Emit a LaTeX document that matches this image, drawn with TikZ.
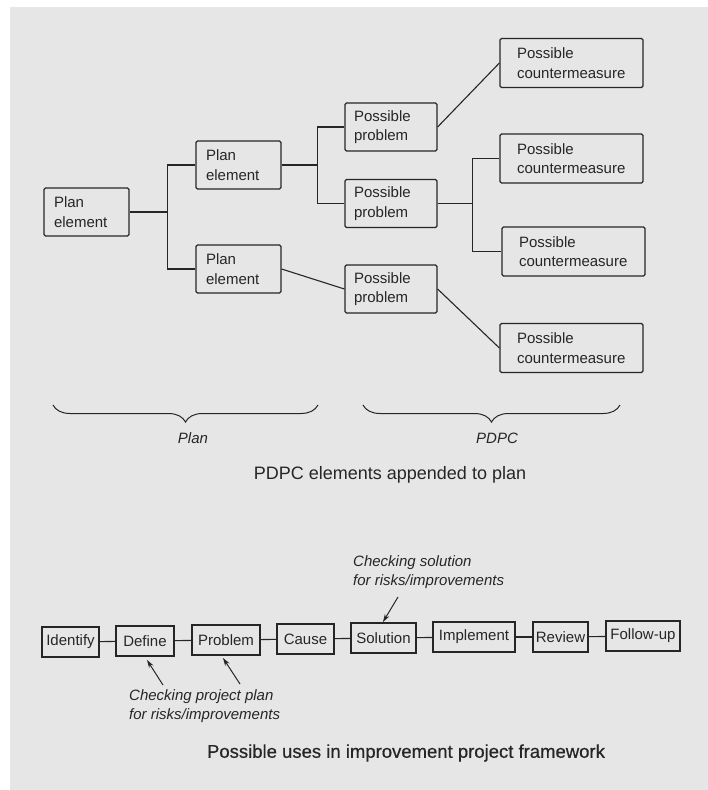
\documentclass[tikz,border=0pt]{standalone}
\usepackage{fontspec}
\setmainfont{Liberation Sans}
\usetikzlibrary{arrows.meta,decorations.pathreplacing,calc}
\definecolor{paper}{RGB}{230,230,230}
\definecolor{ink}{RGB}{38,38,38}

\begin{document}
\begin{tikzpicture}[x=1pt,y=-1pt,
  every node/.style={text=ink},
  treebox/.style={draw=ink, line width=1.2pt, rounded corners=1.5pt, inner ysep=0pt,
    minimum height=48pt, align=left, font=\fontsize{15}{19.5}\selectfont},
  planbox/.style={treebox, text width=65pt, inner xsep=10pt},
  probbox/.style={treebox, text width=74pt, inner xsep=9pt},
  cmbox/.style={treebox, text width=109pt, inner xsep=17pt, minimum height=49pt},
  stepbox/.style={draw=ink, line width=1.2pt, inner sep=0pt, minimum height=30pt,
    font=\fontsize{15}{18}\selectfont},
  link/.style={draw=ink, line width=1.1pt},
  pointer/.style={draw=ink, line width=1pt, -{Stealth[length=8pt,width=5pt]}},
  note/.style={font=\fontsize{15}{19}\selectfont\itshape, align=left, inner sep=0pt},
  caption/.style={font=\fontsize{18}{20}\selectfont, inner sep=0pt},
  bracket/.style={draw=ink, line width=1pt, decorate,
    decoration={brace, mirror, amplitude=17pt}},
]
% page and paper
\useasboundingbox (0,0) rectangle (708,790);
\fill[white] (0,0) rectangle (708,790);
\fill[paper] (10,7) rectangle (708,790);

% ---- plan tree with PDPC branches ----
\node[planbox] (p0) at (86.5,212) {Plan\\element};
\node[planbox] (p1) at (238.5,165) {Plan\\element};
\node[planbox] (p2) at (238.5,269) {Plan\\element};

\node[probbox] (pr1) at (391,127) {Possible\\problem};
\node[probbox] (pr2) at (391,203.5) {Possible\\problem};
\node[probbox] (pr3) at (391,289) {Possible\\problem};

\node[cmbox] (cm1) at (571.5,63) {Possible\\countermeasure};
\node[cmbox] (cm2) at (571.5,158.5) {Possible\\countermeasure};
\node[cmbox] (cm3) at (573.5,251.5) {Possible\\countermeasure};
\node[cmbox] (cm4) at (571.5,348) {Possible\\countermeasure};

\draw[link] (p0.east) -- ++(38,0) coordinate (j0) |- (p1.west);
\draw[link] (j0) |- (p2.west);
\draw[link] (p1.east) -- ++(36,0) coordinate (j1) |- (pr1.west);
\draw[link] (j1) |- (pr2.west);
\draw[link] (p2.east) -- (pr3.west);
\draw[link] (pr1.east) -- (cm1.west);
\draw[link] (pr2.east) -- ++(35,0) coordinate (j2) |- (cm2.west);
\draw[link] (j2) |- (cm3.west);
\draw[link] (pr3.east) -- (cm4.west);

% braces and their labels
\coordinate (bpA) at (53,405);
\coordinate (bpB) at (318,405);
\coordinate (bdA) at (363,405);
\coordinate (bdB) at (620,405);
\draw[bracket] (bpA) -- (bpB);
\draw[bracket] (bdA) -- (bdB);
\node[note] (planlbl) at (193,438) {Plan};
\node[note] (pdpclbl) at (497,438) {PDPC};

\node[caption] (cap1) at (390,475) {PDPC elements appended to plan};

% ---- improvement project framework ----
\node[stepbox, minimum width=57pt] (s1) at (70.5,642) {Identify};
\node[stepbox, minimum width=58pt] (s2) at (145,641) {Define};
\node[stepbox, minimum width=68pt] (s3) at (226,640) {Problem};
\node[stepbox, minimum width=57pt] (s4) at (305.5,639) {Cause};
\node[stepbox, minimum width=65pt] (s5) at (383.5,638) {Solution};
\node[stepbox, minimum width=82pt] (s6) at (474,637) {Implement};
\node[stepbox, minimum width=55pt] (s7) at (560.5,637) {Review};
\node[stepbox, minimum width=74pt] (s8) at (643,636) {Follow-up};

\draw[link] (s1) -- (s2);
\draw[link] (s2) -- (s3);
\draw[link] (s3) -- (s4);
\draw[link] (s4) -- (s5);
\draw[link] (s5) -- (s6);
\draw[link] (s6) -- (s7);
\draw[link] (s7) -- (s8);

% annotations with pointers
\node[note, anchor=west] (note1) at (129,706.5) {Checking project plan\\for risks/improvements};
\node[note, anchor=west] (note2) at (353,572) {Checking solution\\for risks/improvements};

\coordinate (t1) at (163,685);
\coordinate (h1) at (147,660);
\coordinate (t2) at (240,684);
\coordinate (h2) at (223,658);
\coordinate (t3) at (398,597);
\coordinate (h3) at (383,622);
\draw[pointer] (t1) -- (h1);
\draw[pointer] (t2) -- (h2);
\draw[pointer] (t3) -- (h3);

\node[caption, font=\fontsize{18.5}{21}\selectfont] (cap2) at (406,753)
  {\addfontfeatures{FakeBold=0.6}Possible uses in improvement project framework};
\end{tikzpicture}
\end{document}
